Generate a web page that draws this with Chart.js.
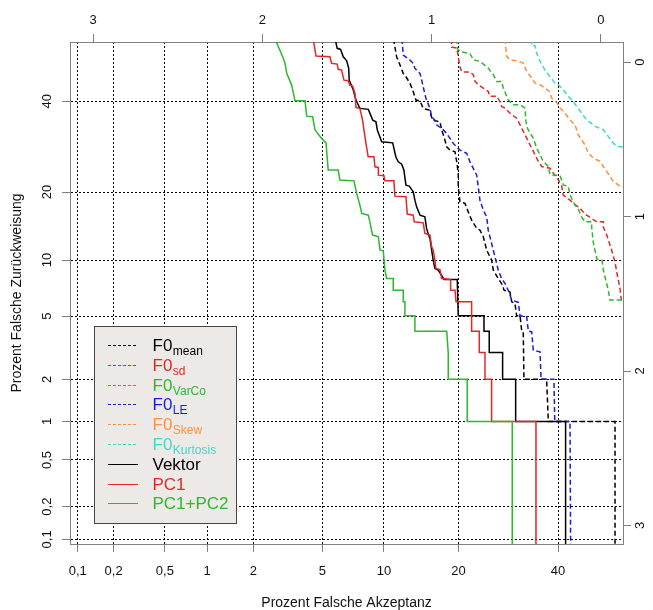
<!DOCTYPE html>
<html><head><meta charset="utf-8">
<script src="https://cdn.jsdelivr.net/npm/chart.js@4.4.1/dist/chart.umd.min.js"></script>
<style>html,body{margin:0;padding:0;background:#fff}canvas{display:block}</style>
</head><body>
<canvas id="c" width="653" height="610" style="width:653px;height:610px"></canvas>
<script>
// ---- tick labels (percent axes) and normal-deviate axes ----
const pctTicks = [0.1, 0.2, 0.5, 1, 2, 5, 10, 20, 40];
const pctTickLabels = ['0,1', '0,2', '0,5', '1', '2', '5', '10', '20', '40'];
const devTicksTop = [3, 2, 1, 0];
const devTicksRight = [0, 1, 2, 3];

// ---- series: [false-acceptance deviate (top axis), false-rejection deviate (right axis)] ----
const f0Mean = [[1.225,-0.15],[1.207,-0.034],[1.187,0.019],[1.168,0.073],[1.152,0.095],[1.128,0.138],[1.112,0.181],[1.093,0.246],[1.069,0.251],[1.050,0.300],[1.014,0.311],[0.994,0.376],[0.951,0.387],[0.941,0.440],[0.927,0.484],[0.911,0.549],[0.892,0.570],[0.862,0.581],[0.852,0.646],[0.843,0.721],[0.843,0.807],[0.833,0.905],[0.803,0.915],[0.784,0.970],[0.764,1.023],[0.734,1.077],[0.715,1.088],[0.695,1.131],[0.675,1.218],[0.646,1.282],[0.636,1.347],[0.607,1.401],[0.581,1.444],[0.573,1.477],[0.538,1.488],[0.527,1.552],[0.508,1.563],[0.498,1.643],[0.478,1.643],[0.468,1.742],[0.459,1.747],[0.455,2.053],[0.321,2.053],[0.311,2.327],[-0.083,2.327],[-0.083,3.2]];
const f0Sd = [[0.882,-0.15],[0.882,-0.097],[0.851,-0.091],[0.843,-0.034],[0.833,0.030],[0.823,0.063],[0.774,0.065],[0.754,0.082],[0.744,0.125],[0.725,0.147],[0.695,0.168],[0.666,0.190],[0.656,0.222],[0.616,0.222],[0.597,0.255],[0.587,0.287],[0.567,0.298],[0.538,0.330],[0.498,0.363],[0.478,0.406],[0.459,0.449],[0.429,0.514],[0.409,0.557],[0.390,0.600],[0.370,0.643],[0.350,0.676],[0.301,0.687],[0.282,0.719],[0.252,0.762],[0.232,0.803],[0.223,0.861],[0.183,0.894],[0.149,0.926],[0.124,0.946],[0.095,0.984],[0.025,1.034],[-0.014,1.034],[-0.014,1.069],[-0.034,1.120],[-0.063,1.218],[-0.083,1.295],[-0.093,1.360],[-0.112,1.464],[-0.122,1.561]];
const f0VarCo = [[0.852,-0.15],[0.849,-0.089],[0.833,-0.067],[0.774,-0.056],[0.754,-0.015],[0.715,-0.005],[0.666,0.039],[0.636,0.082],[0.616,0.125],[0.587,0.125],[0.577,0.168],[0.548,0.244],[0.518,0.277],[0.478,0.277],[0.449,0.298],[0.443,0.384],[0.435,0.427],[0.419,0.460],[0.400,0.492],[0.380,0.557],[0.360,0.600],[0.341,0.643],[0.311,0.676],[0.301,0.730],[0.242,0.734],[0.223,0.795],[0.193,0.805],[0.183,0.859],[0.154,0.926],[0.136,0.946],[0.114,1.004],[0.095,1.034],[0.055,1.034],[0.055,1.069],[0.045,1.172],[0.024,1.276],[-0.006,1.282],[-0.014,1.347],[-0.043,1.477],[-0.053,1.541],[-0.15,1.541]];
const f0LE = [[1.175,-0.15],[1.168,-0.045],[1.128,-0.013],[1.109,0.008],[1.099,0.041],[1.069,0.073],[1.059,0.117],[1.050,0.160],[1.034,0.235],[1.010,0.300],[1.000,0.354],[0.981,0.376],[0.970,0.408],[0.941,0.429],[0.911,0.462],[0.892,0.494],[0.872,0.527],[0.833,0.570],[0.793,0.591],[0.774,0.646],[0.734,0.732],[0.725,0.807],[0.715,0.894],[0.695,0.959],[0.675,1.002],[0.666,1.088],[0.656,1.131],[0.636,1.218],[0.616,1.304],[0.607,1.347],[0.587,1.401],[0.567,1.433],[0.548,1.477],[0.527,1.541],[0.488,1.556],[0.478,1.643],[0.439,1.650],[0.429,1.742],[0.409,1.747],[0.400,1.865],[0.360,1.876],[0.354,2.053],[0.278,2.053],[0.273,2.327],[0.183,2.327],[0.179,3.2]];
const f0Skew = [[0.567,-0.15],[0.557,-0.037],[0.538,-0.015],[0.488,-0.005],[0.459,0.006],[0.439,0.060],[0.409,0.104],[0.390,0.136],[0.360,0.147],[0.331,0.168],[0.305,0.190],[0.291,0.233],[0.258,0.266],[0.242,0.298],[0.213,0.330],[0.183,0.374],[0.154,0.406],[0.134,0.471],[0.095,0.536],[0.075,0.589],[0.045,0.622],[0.006,0.643],[-0.014,0.676],[-0.034,0.708],[-0.053,0.740],[-0.073,0.773],[-0.102,0.795],[-0.112,0.805],[-0.15,0.810]];
const f0Kurtosis = [[0.409,-0.15],[0.409,-0.108],[0.390,-0.108],[0.380,-0.058],[0.360,-0.005],[0.331,0.050],[0.301,0.093],[0.272,0.136],[0.252,0.147],[0.223,0.179],[0.193,0.222],[0.164,0.255],[0.144,0.287],[0.114,0.330],[0.084,0.374],[0.035,0.416],[-0.014,0.438],[-0.043,0.481],[-0.063,0.514],[-0.093,0.546],[-0.15,0.552]];
const vektor = [[1.570,-0.15],[1.558,-0.089],[1.538,-0.082],[1.522,-0.034],[1.502,-0.008],[1.490,0.041],[1.487,0.117],[1.463,0.181],[1.447,0.246],[1.424,0.300],[1.374,0.306],[1.348,0.376],[1.329,0.387],[1.321,0.440],[1.295,0.516],[1.230,0.523],[1.223,0.559],[1.211,0.616],[1.197,0.646],[1.177,0.661],[1.164,0.699],[1.152,0.797],[1.132,0.803],[1.109,0.840],[1.099,0.894],[1.089,0.937],[1.069,0.991],[1.040,1.002],[1.030,1.077],[1.020,1.114],[1.010,1.142],[1.000,1.218],[0.991,1.282],[0.981,1.336],[0.961,1.347],[0.927,1.407],[0.849,1.407],[0.843,1.643],[0.691,1.643],[0.691,1.742],[0.660,1.742],[0.660,1.880],[0.581,1.880],[0.581,2.053],[0.504,2.053],[0.504,2.327],[0.209,2.327],[0.209,3.2]];
const pc1 = [[1.700,-0.15],[1.683,-0.039],[1.601,-0.034],[1.591,0.008],[1.558,0.013],[1.552,0.047],[1.532,0.052],[1.518,0.117],[1.493,0.121],[1.483,0.149],[1.467,0.155],[1.453,0.203],[1.447,0.293],[1.424,0.300],[1.408,0.376],[1.400,0.440],[1.388,0.527],[1.375,0.613],[1.341,0.613],[1.335,0.678],[1.315,0.682],[1.315,0.732],[1.282,0.736],[1.276,0.769],[1.223,0.769],[1.217,0.868],[1.152,0.872],[1.144,0.984],[1.109,0.991],[1.103,1.034],[1.050,1.041],[1.040,1.109],[1.010,1.120],[1.000,1.196],[0.991,1.218],[0.981,1.282],[0.975,1.336],[0.951,1.343],[0.941,1.401],[0.888,1.407],[0.888,1.477],[0.862,1.477],[0.856,1.552],[0.764,1.552],[0.764,1.742],[0.719,1.742],[0.719,1.880],[0.685,1.880],[0.685,2.053],[0.646,2.053],[0.646,2.327],[0.384,2.327],[0.384,3.2]];
const pc1pc2 = [[1.925,-0.15],[1.880,-0.034],[1.866,0.008],[1.856,0.073],[1.827,0.149],[1.807,0.251],[1.748,0.251],[1.738,0.350],[1.703,0.354],[1.689,0.440],[1.650,0.494],[1.624,0.523],[1.611,0.699],[1.552,0.699],[1.542,0.764],[1.459,0.769],[1.443,0.850],[1.424,0.926],[1.413,0.980],[1.374,0.991],[1.364,1.041],[1.349,1.120],[1.315,1.131],[1.305,1.218],[1.286,1.222],[1.276,1.347],[1.266,1.401],[1.227,1.401],[1.227,1.477],[1.168,1.477],[1.168,1.552],[1.158,1.552],[1.158,1.643],[1.099,1.643],[1.099,1.742],[0.911,1.742],[0.902,1.887],[0.902,2.053],[0.790,2.053],[0.790,2.327],[0.524,2.327],[0.524,3.2]];

const seriesData = [f0Mean, f0Sd, f0VarCo, f0LE, f0Skew, f0Kurtosis, vektor, pc1, pc1pc2];
const seriesLabels = ['F0_mean', 'F0_sd', 'F0_VarCo', 'F0_LE', 'F0_Skew', 'F0_Kurtosis', 'Vektor', 'PC1', 'PC1+PC2'];

// ---- styles ----
const seriesColors = ['#000000', '#E02828', '#2DB82D', '#1C1CDC', '#FF9040', '#40D8C8', '#000000', '#E02828', '#2DB82D'];
const seriesDashed = [true, true, true, true, true, true, false, false, false];
const FONT = '"Liberation Sans", Arial, Helvetica, sans-serif';

// inverse normal CDF (Acklam) – maps percent ticks onto the deviate axis
function qnorm(p) {
  const a=[-3.969683028665376e+01,2.209460984245205e+02,-2.759285104469687e+02,1.383577518672690e+02,-3.066479806614716e+01,2.506628277459239e+00];
  const b=[-5.447609879822406e+01,1.615858368580409e+02,-1.556989798598866e+02,6.680131188771972e+01,-1.328068155288572e+01];
  const c=[-7.784894002430293e-03,-3.223964580411365e-01,-2.400758277161838e+00,-2.549732539343734e+00,4.374664141464968e+00,2.938163982698783e+00];
  const d=[7.784695709041462e-03,3.224671290700398e-01,2.445134137142996e+00,3.754408661907416e+00];
  const pl = 0.02425, ph = 1 - pl; let q, r;
  if (p < pl) { q = Math.sqrt(-2*Math.log(p)); return (((((c[0]*q+c[1])*q+c[2])*q+c[3])*q+c[4])*q+c[5])/((((d[0]*q+d[1])*q+d[2])*q+d[3])*q+1); }
  if (p <= ph) { q = p-0.5; r = q*q; return (((((a[0]*r+a[1])*r+a[2])*r+a[3])*r+a[4])*r+a[5])*q/(((((b[0]*r+b[1])*r+b[2])*r+b[3])*r+b[4])*r+1); }
  q = Math.sqrt(-2*Math.log(1-p)); return -(((((c[0]*q+c[1])*q+c[2])*q+c[3])*q+c[4])*q+c[5])/((((d[0]*q+d[1])*q+d[2])*q+d[3])*q+1);
}
const pctToDev = p => -qnorm(p / 100);

const X_MIN = -0.13, X_MAX = 3.136, Y_MIN = -0.13, Y_MAX = 3.12;
const tickFont = { family: FONT, size: 13 };
const titleFont = { family: FONT, size: 14, lineHeight: 1 };
const GRID = { color: '#000', lineWidth: 1, tickLength: 8, tickColor: '#808080', tickWidth: 1, borderDash: [2, 2] };
const BORDER = { display: true, color: '#808080', width: 1, dash: [2, 2] };

const legendPlugin = {
  id: 'detLegend',
  afterDraw(chart) {
    const ctx = chart.ctx;
    ctx.save();
    ctx.fillStyle = '#ECE9E6';
    ctx.strokeStyle = '#444';
    ctx.lineWidth = 1;
    ctx.fillRect(94.5, 326.5, 142, 197);
    ctx.strokeRect(94.5, 326.5, 142, 197);
    chart.data.datasets.forEach((ds, i) => {
      const yc = Math.round(345 + i * 19.8);
      ctx.beginPath();
      ctx.setLineDash(seriesDashed[i] ? [3, 2] : []);
      ctx.strokeStyle = ds.borderColor;
      ctx.lineWidth = 1;
      ctx.moveTo(108, yc + 0.5);
      ctx.lineTo(138, yc + 0.5);
      ctx.stroke();
      ctx.setLineDash([]);
      const parts = ds.label.split('_');
      ctx.fillStyle = ds.borderColor;
      ctx.textBaseline = 'alphabetic';
      ctx.textAlign = 'left';
      ctx.font = '17px ' + FONT;
      ctx.fillText(parts[0], 152.5, yc + 6);
      if (parts[1]) {
        const w = ctx.measureText(parts[0]).width;
        ctx.font = '12px ' + FONT;
        ctx.fillText(parts[1], 152.5 + w + 0.5, yc + 10);
      }
    });
    ctx.restore();
  }
};

new Chart(document.getElementById('c'), {
  type: 'scatter',
  data: {
    datasets: seriesData.map((arr, i) => ({
      label: seriesLabels[i],
      data: arr.map(([x, y]) => ({ x, y })),
      showLine: true,
      borderColor: seriesColors[i],
      backgroundColor: seriesColors[i],
      borderWidth: 1.5,
      borderDash: seriesDashed[i] ? [5, 3] : [],
      pointRadius: 0,
      pointHoverRadius: 0,
      tension: 0,
      fill: false,
      order: seriesData.length - i,
      xAxisID: 'x',
      yAxisID: 'y'
    }))
  },
  options: {
    responsive: false,
    animation: false,
    events: [],
    layout: { padding: 0 },
    plugins: { legend: { display: false }, tooltip: { enabled: false }, title: { display: false } },
    scales: {
      x: {
        type: 'linear', position: 'bottom', reverse: true, min: X_MIN, max: X_MAX,
        afterBuildTicks: s => { s.ticks = pctTicks.map(p => ({ value: pctToDev(p) })); },
        ticks: { callback: (v, i) => pctTickLabels[i], autoSkip: false, minRotation: 0, maxRotation: 0, font: tickFont, color: '#111', padding: 12 },
        grid: GRID, border: BORDER,
        title: { display: true, text: 'Prozent Falsche Akzeptanz', font: titleFont, color: '#111', padding: 0 },
        afterFit: s => { s.height = 66; }
      },
      x2: {
        type: 'linear', position: 'top', reverse: true, min: X_MIN, max: X_MAX,
        afterBuildTicks: s => { s.ticks = devTicksTop.map(v => ({ value: v })); },
        ticks: { callback: (v, i) => String(devTicksTop[i]), autoSkip: false, minRotation: 0, maxRotation: 0, font: tickFont, color: '#111', padding: 6 },
        grid: { drawOnChartArea: false, drawTicks: true, tickLength: 8, tickColor: '#808080', color: '#808080' },
        border: { display: true, color: '#808080', width: 1 },
        afterFit: s => { s.height = 42; }
      },
      y: {
        type: 'linear', position: 'left', reverse: true, min: Y_MIN, max: Y_MAX,
        afterBuildTicks: s => { s.ticks = pctTicks.map(p => ({ value: pctToDev(p) })); },
        ticks: { callback: (v, i) => pctTickLabels[i], autoSkip: false, minRotation: 90, maxRotation: 90, crossAlign: 'center', font: tickFont, color: '#111', padding: 6 },
        grid: GRID, border: BORDER,
        title: { display: true, text: 'Prozent Falsche Zurückweisung', font: titleFont, color: '#111', padding: { top: 10, bottom: 0 } },
        afterFit: s => { s.width = 70; }
      },
      y2: {
        type: 'linear', position: 'right', reverse: true, min: Y_MIN, max: Y_MAX,
        afterBuildTicks: s => { s.ticks = devTicksRight.map(v => ({ value: v })); },
        ticks: { callback: (v, i) => String(devTicksRight[i]), autoSkip: false, minRotation: 90, maxRotation: 90, crossAlign: 'center', font: tickFont, color: '#111', padding: 6 },
        grid: { drawOnChartArea: false, drawTicks: true, tickLength: 8, tickColor: '#808080', color: '#808080' },
        border: { display: true, color: '#808080', width: 1 },
        afterFit: s => { s.width = 30; }
      }
    }
  },
  plugins: [legendPlugin]
});
</script>
</body></html>
